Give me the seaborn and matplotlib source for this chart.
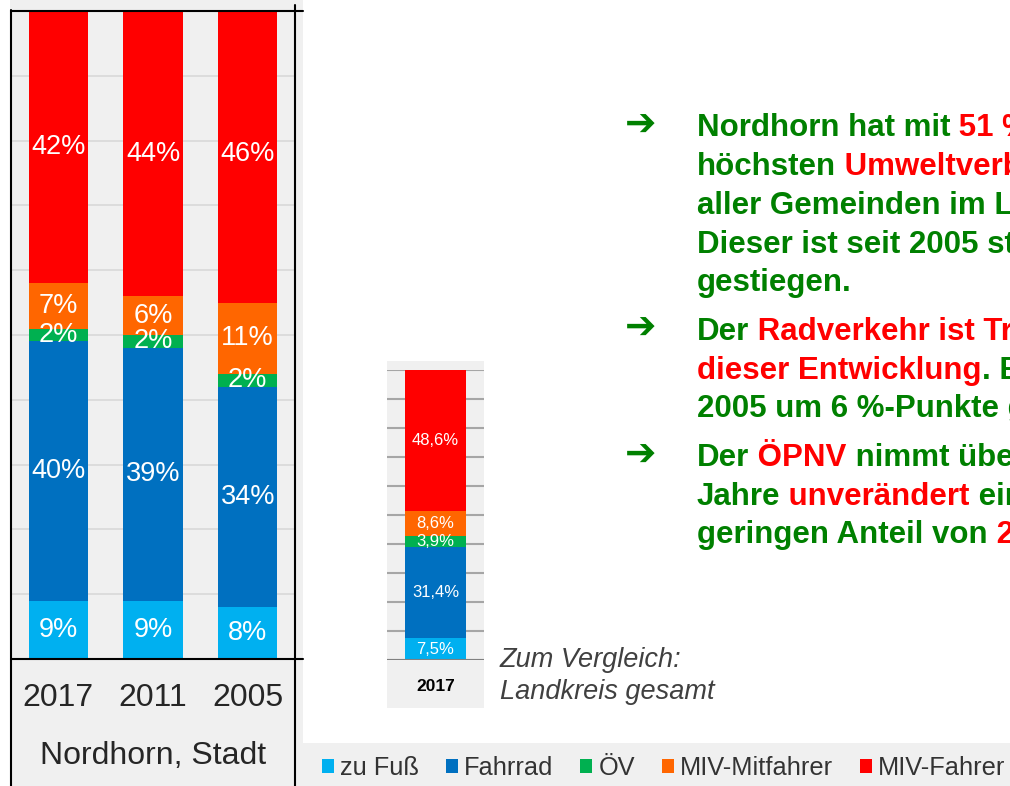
import matplotlib
matplotlib.use("Agg")
import matplotlib.pyplot as plt
from matplotlib import font_manager
from matplotlib.patches import Rectangle, Patch
from matplotlib.lines import Line2D
import pandas as pd
import seaborn as sns

# Daten: Modal Split Nordhorn, Stadt (2017, 2011, 2005) und Landkreis gesamt (2017)
jahre = ["2017", "2011", "2005"]
modi = ["zu Fuß", "Fahrrad", "ÖV", "MIV-Mitfahrer", "MIV-Fahrer"]
zu_fuss = [9, 9, 8]
fahrrad = [40, 39, 34]
oev = [2, 2, 2]
miv_mitfahrer = [7, 6, 11]
miv_fahrer = [42, 44, 46]

kreis_jahr = ["2017"]
kreis_werte = [7.5, 31.4, 3.9, 8.6, 48.6]

farben = ["#00b0f0", "#0070c0", "#00b050", "#ff6600", "#ff0000"]

GRUEN = "#008000"
ROT = "#ff0000"

# Text rechts: Zeilen aus (Text, Farbe)-Segmenten
zeilen = [
    [("Nordhorn hat mit", GRUEN), (" 51 %", ROT), (" den", GRUEN)],
    [("höchsten", GRUEN), (" Umweltverbund-Anteil", ROT)],
    [("aller Gemeinden im Landkreis.", GRUEN)],
    [("Dieser ist seit 2005 stetig", GRUEN)],
    [("gestiegen.", GRUEN)],
    [("Der", GRUEN), (" Radverkehr ist Treiber", ROT)],
    [("dieser Entwicklung", ROT), (". Er ist seit", GRUEN)],
    [("2005 um 6 %-Punkte gestiegen.", GRUEN)],
    [("Der", GRUEN), (" ÖPNV", ROT), (" nimmt über die", GRUEN)],
    [("Jahre", GRUEN), (" unverändert", ROT), (" einen", GRUEN)],
    [("geringen Anteil von", GRUEN), (" 2 %", ROT)],
]
baselines = [136, 175, 214, 253, 291, 340, 379, 417, 466, 505, 543]
pfeile_y = [126, 329, 456]

sns.set_style("white")
plt.rcParams["font.family"] = ["Liberation Sans", "DejaVu Sans"]

W, H = 1010, 786
fig = plt.figure(figsize=(W / 100, H / 100), dpi=100)


def box(x0, y0, x1, y1):
    return [x0 / W, 1 - y1 / H, (x1 - x0) / W, (y1 - y0) / H]


def fx(x):
    return x / W


def fy(y):
    return 1 - y / H


# Hintergruende
GRAU = "#f0f0f0"
for x0, y0, x1, y1 in [(10, 0, 303, 786), (387, 361, 484, 708), (303, 743, 1010, 786)]:
    fig.add_artist(Rectangle((fx(x0), fy(y1)), (x1 - x0) / W, (y1 - y0) / H,
                             transform=fig.transFigure, facecolor=GRAU, edgecolor="none", zorder=0))


def gestapelt(ax, df, order, width):
    cum = df[modi].cumsum(axis=1)
    for modus, farbe in reversed(list(zip(modi, farben))):
        sns.barplot(x=df["Jahr"], y=cum[modus], order=order, color=farbe, width=width,
                    saturation=1, errorbar=None, linewidth=0, ax=ax)
    return cum


# Hauptdiagramm Nordhorn
df = pd.DataFrame({"Jahr": jahre, "zu Fuß": zu_fuss, "Fahrrad": fahrrad, "ÖV": oev,
                   "MIV-Mitfahrer": miv_mitfahrer, "MIV-Fahrer": miv_fahrer})
ax = fig.add_axes(box(11, 11, 295, 659))
ax.patch.set_alpha(0)
ax.set_axisbelow(True)
cum = gestapelt(ax, df, jahre, 0.63)
for i in range(len(jahre)):
    for modus in modi:
        v = df.loc[i, modus]
        ax.text(i, cum.loc[i, modus] - v / 2, f"{v}%", ha="center", va="center",
                color="white", fontsize=19.5)
ax.set_xlim(-0.5, 2.5)
ax.set_ylim(0, 100)
ax.set_yticks(range(10, 100, 10))
ax.set_yticklabels([])
ax.yaxis.grid(True, color="#d9d9d9", lw=1.2)
ax.tick_params(axis="both", length=0)
ax.tick_params(axis="x", labelsize=23, pad=17.3, colors="#262626")
ax.set_ylabel("")
ax.set_xlabel("Nordhorn, Stadt", fontsize=23, labelpad=20, color="#262626")
for s in ax.spines.values():
    s.set_visible(False)

for xs, ys in [((11, 11), (10, 786)), ((295, 295), (5, 786)),
               ((11, 303), (11, 11)), ((11, 303), (659, 659))]:
    fig.add_artist(Line2D([fx(xs[0]), fx(xs[1])], [fy(ys[0]), fy(ys[1])],
                          transform=fig.transFigure, color="black", lw=1.5, zorder=5))

# Vergleich Landkreis
dk = pd.DataFrame([kreis_werte], columns=modi)
dk.insert(0, "Jahr", kreis_jahr)
ax2 = fig.add_axes(box(387, 370, 484, 660))
ax2.patch.set_alpha(0)
ax2.set_axisbelow(True)
cum2 = gestapelt(ax2, dk, kreis_jahr, 0.63)
for modus in modi:
    v = dk.loc[0, modus]
    ax2.text(0, cum2.loc[0, modus] - v / 2, f"{v:.1f}".replace(".", ",") + "%",
             ha="center", va="center", color="white", fontsize=12)
ax2.set_xlim(-0.5, 0.5)
ax2.set_ylim(0, 100)
ax2.set_yticks(range(0, 101, 10))
ax2.set_yticklabels([])
ax2.yaxis.grid(True, color="#a6a6a6", lw=1.5)
ax2.tick_params(axis="both", length=0)
ax2.tick_params(axis="x", labelsize=12.5, pad=14, colors="black")
for t in ax2.get_xticklabels():
    t.set_fontweight("bold")
ax2.set_xlabel("")
ax2.set_ylabel("")
for s in ax2.spines.values():
    s.set_visible(False)
ax2.axhline(0, color="#808080", lw=1.5)

fig.text(fx(500), fy(660), "Zum Vergleich:", style="italic", fontsize=19.5,
         color="#404040", va="center")
fig.text(fx(500), fy(692), "Landkreis gesamt", style="italic", fontsize=19.5,
         color="#404040", va="center")

# Text rechts
tax = fig.add_axes([0, 0, 1, 1])
tax.axis("off")
tax.set_xlim(0, W)
tax.set_ylim(H, 0)
for y in pfeile_y:
    tax.text(641, y, "➔", ha="center", va="center", color=GRUEN, fontsize=27,
             family="DejaVu Sans", fontweight="bold")
for zeile, yb in zip(zeilen, baselines):
    prev = None
    for seg, farbe in zeile:
        if prev is None:
            prev = tax.text(697, yb, seg, color=farbe, fontsize=22.5, fontweight="bold",
                            va="baseline", ha="left")
        else:
            prev = tax.annotate(seg, xy=(1, 0), xycoords=prev, va="bottom", ha="left",
                                color=farbe, fontsize=22.5, fontweight="bold")

# Legende
try:
    font_manager.findfont("Liberation Sans Narrow", fallback_to_default=False)
    leg_prop = {"family": "Liberation Sans Narrow", "size": 21}
except ValueError:
    leg_prop = {"family": "Liberation Sans", "size": 18.3}
handles = [Patch(facecolor=c, edgecolor="none", label=m) for m, c in zip(modi, farben)]
fig.legend(handles=handles, ncol=5, loc="center left", bbox_to_anchor=(fx(322), fy(768)),
           frameon=False, handlelength=0.47, handleheight=0.47, handletextpad=0.25,
           columnspacing=1.05, borderpad=0, borderaxespad=0, prop=leg_prop,
           labelcolor="#333333")

fig.savefig("out.png", dpi=100)
